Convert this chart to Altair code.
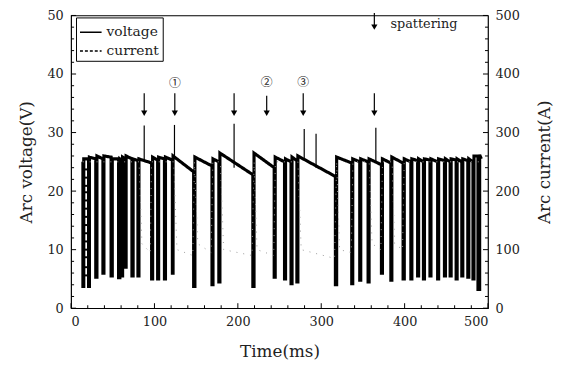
import altair as alt
import pandas as pd

# ---------------- data ----------------
# voltage trace: short-circuit events (ms), min voltage (V), arc levels (V)
sc_start = [14.2, 21.0, 29.6, 38.2, 48.0, 57.0, 60.5, 65.0, 73.0, 80.2,
            96.6, 103.8, 112.0, 121.5, 147.0, 169.0, 177.2, 218.0, 243.6, 256.0,
            263.8, 270.8, 317.0, 336.6, 346.2, 356.2, 372.2, 383.5, 398.2, 407.5,
            415.6, 422.6, 430.4, 439.6, 447.8, 454.6, 461.8, 468.6, 475.8, 482.0, 488.0]
sc_end = [15.2, 22.0, 31.0, 39.4, 49.4, 58.5, 61.8, 66.0, 74.4, 81.4,
          97.8, 105.0, 113.2, 122.3, 148.5, 170.2, 178.5, 219.4, 244.8, 257.2,
          265.0, 272.0, 318.5, 337.8, 347.4, 357.4, 373.4, 384.7, 399.6, 408.7,
          416.8, 423.8, 431.6, 440.8, 449.0, 455.8, 463.0, 469.8, 477.0, 483.2, 490.0]
sc_min = [3.7, 3.7, 5.3, 6.0, 5.5, 5.2, 5.5, 7.0, 5.5, 5.5,
          5.0, 5.0, 5.0, 6.0, 3.7, 4.0, 4.5, 3.7, 5.3, 5.0,
          4.2, 4.5, 4.0, 4.2, 4.8, 4.5, 6.0, 4.8, 5.0, 5.0,
          5.5, 5.0, 5.5, 5.0, 5.5, 5.5, 5.0, 5.5, 5.3, 5.0, 3.2]
arc_v_before = [25.0, 25.5, 25.5, 25.5, 25.8, 25.5, 25.3, 25.5, 25.5, 25.2,
                24.8, 25.3, 25.5, 25.3, 23.3, 24.3, 25.0, 22.8, 24.0, 25.0,
                25.0, 25.2, 22.5, 24.8, 25.0, 25.0, 24.5, 24.8, 24.8, 25.0,
                25.2, 25.0, 25.3, 25.0, 25.2, 25.0, 25.3, 25.0, 25.2, 25.0, 26.0]
arc_v_after = [25.5, 25.8, 26.0, 26.0, 25.5, 25.5, 25.8, 26.0, 25.5, 25.5,
               25.8, 25.8, 25.8, 26.0, 25.8, 25.5, 26.5, 26.5, 25.8, 25.5,
               25.8, 26.0, 25.8, 25.5, 25.5, 25.5, 25.5, 25.8, 25.5, 25.5,
               25.5, 25.5, 25.5, 25.5, 25.5, 25.5, 25.5, 25.5, 25.5, 26.0, 26.2]
t_first, v_first = 13.8, 25.0
t_last, v_last = 492.0, 25.5

# ladder block at the start (V)
ladder_v = [23.7, 22.3, 20.9, 19.8, 18.4, 17.0, 15.6, 14.2, 12.8, 11.4, 10.0, 8.7, 7.0, 5.6]
ladder_t0, ladder_t1 = 14.2, 21.5

# thin voltage spikes (ms, V)
spike_t = [87.7, 124.0, 195.5, 279.6, 293.8, 365.5]
spike_base = [25.0, 25.5, 24.0, 25.5, 24.0, 25.0]
spike_top = [31.2, 31.3, 31.5, 30.6, 29.8, 30.8]

# current trace (ms, A)
cur_t = [14.0, 81.5, 85.0, 95.0, 96.5, 123.0, 127.0, 146.0, 148.0, 152.0,
         168.0, 170.0, 179.0, 183.0, 217.0, 219.5, 223.0, 243.0, 245.0, 272.0,
         276.0, 316.0, 318.5, 322.0, 336.0, 338.0, 357.5, 361.0, 371.5, 373.5,
         385.0, 388.0, 397.5, 399.5, 492.0]
cur_a = [250, 250, 110, 95, 250, 250, 100, 90, 250, 110,
         95, 250, 250, 100, 90, 250, 100, 90, 250, 250,
         100, 85, 250, 100, 95, 250, 250, 110, 100, 250,
         250, 110, 100, 250, 250]

# annotations
arrow_t = [87.7, 124.4, 195.5, 234.6, 278.4, 363.7]
arrow_top = [36.7, 36.7, 36.7, 36.3, 36.7, 36.7]
arrow_head = [33.3, 33.3, 33.3, 33.3, 33.3, 33.3]
spat_arrow_t = [363.7]
spat_arrow_top = [50.4]
spat_arrow_head = [48.0]
mark_t = [124.4, 234.6, 278.4]
mark_v = [38.4, 38.6, 38.6]
mark_txt = ["①", "②", "③"]
spat_t = [383.0]
spat_v = [48.6]
spat_txt = ["spattering"]

v_major = [0, 10, 20, 30, 40, 50]
v_minor = [2, 4, 6, 8, 12, 14, 16, 18, 22, 24, 26, 28, 32, 34, 36, 38, 42, 44, 46, 48]
a_major = [0, 100, 200, 300, 400, 500]
a_minor = [20, 40, 60, 80, 120, 140, 160, 180, 220, 240, 260, 280, 320, 340, 360, 380, 420, 440, 460, 480]
t_major = [0, 100, 200, 300, 400, 500]
t_minor = [20, 40, 60, 80, 120, 140, 160, 180, 220, 240, 260, 280, 320, 340, 360, 380, 420, 440, 460, 480]

# ---------------- tables ----------------
rows = [(t_first, v_first)]
for s, e, m, vb, va in zip(sc_start, sc_end, sc_min, arc_v_before, arc_v_after):
    rows += [(s, vb), (s, m), (e, m), (e, va)]
rows.append((t_last, v_last))
volt = pd.DataFrame(rows, columns=["t", "v"])
volt["i"] = range(len(volt))
volt["series"] = "voltage"

cur = pd.DataFrame({"t": cur_t, "a": cur_a})
cur["i"] = range(len(cur))

W, H = 423, 297
FONT = "DejaVu Serif"
TXT = "#222222"

xs = alt.Scale(domain=[0, 500], nice=False)
vs = alt.Scale(domain=[0, 50], nice=False, zero=False)
cs = alt.Scale(domain=[0, 500], nice=False, zero=False)

xaxis = alt.Axis(title="Time(ms)", values=t_major, ticks=False, tickSize=0, domain=False,
                 grid=False, labelPadding=8, titlePadding=15, labelFont=FONT, titleFont=FONT,
                 labelFontSize=13, titleFontSize=17, titleFontWeight="normal",
                 labelColor=TXT, titleColor=TXT)


def X(field="t:Q"):
    return alt.X(field, scale=xs, axis=xaxis)


voltage = alt.Chart(volt).mark_line(color="black", strokeWidth=3.2, strokeJoin="miter").encode(
    x=X(),
    y=alt.Y("v:Q", scale=vs,
            axis=alt.Axis(title="Arc voltage(V)", values=v_major, ticks=False, tickSize=0,
                          domain=False, grid=False, labelPadding=8, titlePadding=12,
                          labelFont=FONT, titleFont=FONT, labelFontSize=13, titleFontSize=17,
                          titleFontWeight="normal", labelColor=TXT, titleColor=TXT)),
    order=alt.Order("i:Q"),
    strokeDash=alt.StrokeDash("series:N",
                              scale=alt.Scale(domain=["voltage", "current"], range=[[1, 0], [3, 2]]),
                              legend=alt.Legend(title=None, orient="none", legendX=5, legendY=2,
                                                strokeColor="black", fillColor="white", padding=3,
                                                symbolType="stroke", symbolSize=480,
                                                symbolStrokeWidth=1.6, symbolStrokeColor="black",
                                                labelFont=FONT, labelFontSize=14, labelColor=TXT,
                                                rowPadding=0, labelOffset=4)),
)

current = alt.Chart(cur).mark_line(color="#9a9a9a", strokeWidth=1, strokeDash=[1, 6]).encode(
    x=X(),
    y=alt.Y("a:Q", scale=cs,
            axis=alt.Axis(title="Arc current(A)", orient="right", values=a_major, ticks=False,
                          tickSize=0, domain=False, grid=False, labelPadding=7, titlePadding=18,
                          titleAngle=270, titleBaseline="top", labelFont=FONT, titleFont=FONT,
                          labelFontSize=13, titleFontSize=17, titleFontWeight="normal",
                          labelColor=TXT, titleColor=TXT)),
    order=alt.Order("i:Q"),
)


def vy(field):
    return alt.Y(field, scale=vs, axis=None)


ladder = alt.Chart(pd.DataFrame({"v": ladder_v, "t0": ladder_t0, "t1": ladder_t1})).mark_rule(
    color="black", strokeWidth=2).encode(x=X("t0:Q"), x2="t1:Q", y=vy("v:Q"))

spikes = alt.Chart(pd.DataFrame({"t": spike_t, "b": spike_base, "top": spike_top})).mark_rule(
    color="black", strokeWidth=1.2).encode(x=X(), y=vy("b:Q"), y2="top:Q")

arrows = alt.Chart(pd.DataFrame({"t": arrow_t + spat_arrow_t, "top": arrow_top + spat_arrow_top,
                                 "h": arrow_head + spat_arrow_head})).mark_rule(
    color="black", strokeWidth=1.2).encode(x=X(), y=vy("top:Q"), y2="h:Q")

heads = alt.Chart(pd.DataFrame({"t": arrow_t + spat_arrow_t, "h": arrow_head + spat_arrow_head})).mark_point(
    shape="triangle-down", filled=True, color="black", size=40, opacity=1).encode(x=X(), y=vy("h:Q"))

marks = alt.Chart(pd.DataFrame({"t": mark_t, "v": mark_v, "s": mark_txt})).mark_text(
    font="Noto Sans CJK SC", fontSize=12, color=TXT).encode(x=X(), y=vy("v:Q"), text="s:N")

spat = alt.Chart(pd.DataFrame({"t": spat_t, "v": spat_v, "s": spat_txt})).mark_text(
    font=FONT, fontSize=13, color=TXT, align="left", baseline="middle").encode(x=X(), y=vy("v:Q"), text="s:N")

# inward ticks (length expressed in data units of each scale: ~5 px major, ~3 px minor)
tick_rows_v = ([{"y": v, "x0": 0, "x1": 6} for v in v_major] +
               [{"y": v, "x0": 0, "x1": 3.6} for v in v_minor])
tick_rows_a = ([{"y": a, "x0": 500, "x1": 494} for a in a_major] +
               [{"y": a, "x0": 500, "x1": 496.4} for a in a_minor])
tick_rows_t = ([{"t": t, "y0": 0, "y1": 0.85} for t in t_major] +
               [{"t": t, "y0": 0, "y1": 0.5} for t in t_minor])

ticks_v = alt.Chart(pd.DataFrame(tick_rows_v)).mark_rule(color="black", strokeWidth=1).encode(
    x=X("x0:Q"), x2="x1:Q", y=vy("y:Q"))
ticks_a = alt.Chart(pd.DataFrame(tick_rows_a)).mark_rule(color="black", strokeWidth=1).encode(
    x=X("x0:Q"), x2="x1:Q", y=alt.Y("y:Q", scale=cs, axis=None))
ticks_t = alt.Chart(pd.DataFrame(tick_rows_t)).mark_rule(color="black", strokeWidth=1).encode(
    x=X(), y=vy("y0:Q"), y2="y1:Q")

chart = alt.layer(voltage, current, ladder, spikes, arrows, heads, marks, spat,
                  ticks_v, ticks_a, ticks_t).resolve_scale(
    y="independent", strokeDash="shared").properties(
    width=W, height=H,
    autosize=alt.AutoSizeParams(type="none"),
    padding={"left": 64, "top": 5, "right": 69, "bottom": 50},
).configure_view(stroke="black", strokeWidth=1.2)

chart.save("out.html", embed_options={"renderer": "svg", "actions": False})
